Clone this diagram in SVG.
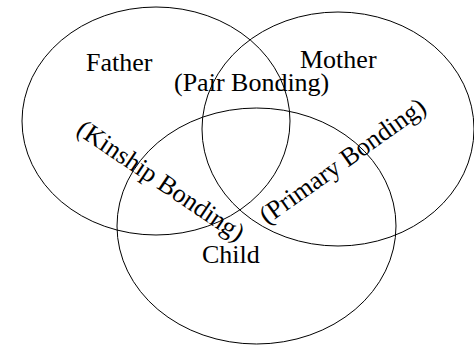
<svg xmlns="http://www.w3.org/2000/svg" width="474" height="345" viewBox="0 0 474 345">
<style>
.c{fill:none;stroke:#000;stroke-width:1}
.t{font-family:"Liberation Serif","Times New Roman",serif;font-size:26px;fill:#000}
</style>
<rect width="474" height="345" fill="#fff"/>
<g id="father"><ellipse class="c" cx="156" cy="121" rx="134" ry="114"/><text class="t" x="86" y="70.5">Father</text></g>
<g id="mother"><ellipse class="c" cx="338" cy="129" rx="136" ry="117"/><text class="t" x="300" y="68">Mother</text></g>
<g id="child"><ellipse class="c" cx="256.5" cy="226" rx="139.5" ry="118"/><text class="t" x="202" y="263">Child</text></g>
<g id="labels">
<text class="t" x="174" y="91">(Pair Bonding)</text>
<text class="t" transform="translate(75,133) rotate(34)">(Kinship Bonding)</text>
<text class="t" transform="translate(267,225) rotate(-35.4)">(Primary Bonding)</text>
</g>
</svg>
